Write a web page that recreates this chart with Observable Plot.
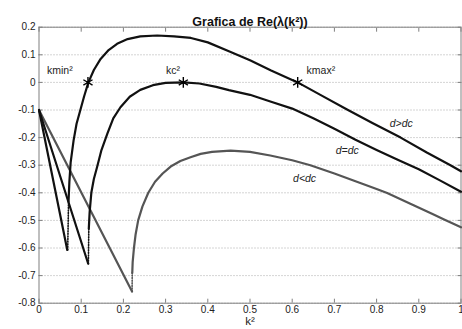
<!DOCTYPE html>
<html><head><meta charset="utf-8">
<script src="https://cdn.jsdelivr.net/npm/d3@7"></script>
<script src="https://cdn.jsdelivr.net/npm/@observablehq/plot@0.6"></script>
<style>body{margin:0;background:#fff}#chart svg{display:block}</style>
</head><body><div id="chart"></div>
<script>
// ---- tick values & labels ----
const xTicks = [0, 0.1, 0.2, 0.3, 0.4, 0.5, 0.6, 0.7, 0.8, 0.9, 1];
const xTickLabels = ["0", "0.1", "0.2", "0.3", "0.4", "0.5", "0.6", "0.7", "0.8", "0.9", "1"];
const yTicks = [0.2, 0.1, 0, -0.1, -0.2, -0.3, -0.4, -0.5, -0.6, -0.7, -0.8];
const yTickLabels = ["0.2", "0.1", "0", "-0.1", "-0.2", "-0.3", "-0.4", "-0.5", "-0.6", "-0.7", "-0.8"];
const title = "Grafica de Re(\u03bb(k\u00b2))";
const xLabel = "k\u00b2";

// ---- d > dc (black) ----
const kGtLin = [0, 0.067];
const reGtLin = [-0.1, -0.607];
const kGtJump = [0.068, 0.070];
const reGtJump = [-0.607, -0.43];
const kGt = [0.070, 0.072, 0.075, 0.082, 0.089, 0.098, 0.107, 0.117, 0.13, 0.146, 0.165, 0.185, 0.21, 0.24, 0.28, 0.32, 0.36, 0.40, 0.45, 0.50, 0.55, 0.613, 0.67, 0.73, 0.79, 0.857, 0.92, 0.975, 1.0];
const reGt = [-0.43, -0.36, -0.29, -0.21, -0.15, -0.10, -0.05, 0, 0.045, 0.085, 0.117, 0.14, 0.157, 0.167, 0.170, 0.167, 0.161, 0.145, 0.113, 0.08, 0.043, 0, -0.048, -0.098, -0.147, -0.2, -0.255, -0.3, -0.322];

// ---- d = dc (black) ----
const kEqLin = [0, 0.1166];
const reEqLin = [-0.1, -0.657];
const kEqJump = [0.117, 0.118];
const reEqJump = [-0.657, -0.53];
const kEq = [0.118, 0.120, 0.124, 0.130, 0.138, 0.148, 0.162, 0.176, 0.193, 0.215, 0.24, 0.27, 0.30, 0.342, 0.38, 0.42, 0.45, 0.50, 0.55, 0.60, 0.65, 0.70, 0.75, 0.80, 0.85, 0.90, 0.95, 1.0];
const reEq = [-0.53, -0.47, -0.40, -0.35, -0.305, -0.245, -0.186, -0.13, -0.09, -0.052, -0.027, -0.01, -0.002, 0, -0.004, -0.016, -0.028, -0.045, -0.07, -0.095, -0.13, -0.168, -0.208, -0.245, -0.28, -0.315, -0.355, -0.396];

// ---- d < dc (gray) ----
const kLtLin = [0, 0.2205];
const reLtLin = [-0.1, -0.758];
const kLtJump = [0.2205, 0.221];
const reLtJump = [-0.758, -0.69];
const kLt = [0.221, 0.222, 0.225, 0.229, 0.235, 0.245, 0.259, 0.275, 0.293, 0.312, 0.335, 0.359, 0.383, 0.41, 0.454, 0.50, 0.548, 0.60, 0.643, 0.70, 0.75, 0.80, 0.825, 0.88, 0.93, 0.96, 1.0];
const reLt = [-0.69, -0.65, -0.6, -0.55, -0.5, -0.45, -0.4, -0.36, -0.33, -0.305, -0.285, -0.271, -0.259, -0.252, -0.247, -0.252, -0.265, -0.282, -0.30, -0.33, -0.358, -0.386, -0.401, -0.44, -0.475, -0.497, -0.525];

// ---- critical points ----
const starNames = ["kmin\u00b2", "kc\u00b2", "kmax\u00b2"];
const starK = [0.116, 0.342, 0.613];
const starRe = [0, 0, 0];

// ---- annotations (anchored in data coordinates) ----
const noteText = ["kmin\u00b2", "kc\u00b2", "kmax\u00b2", "d>dc", "d=dc", "d<dc"];
const noteK = [0.019, 0.301, 0.634, 0.831, 0.703, 0.602];
const noteRe = [0.044, 0.044, 0.044, -0.151, -0.249, -0.349];
const noteItalic = [false, false, false, true, true, true];

const pts = (ks, rs) => ks.map((k, i) => ({k, re: rs[i]}));
const notes = noteText.map((t, i) => ({t, k: noteK[i], re: noteRe[i], it: noteItalic[i]}));
const stars = starNames.map((n, i) => ({n, k: starK[i], re: starRe[i]}));

const BLACK = "#111", GRAY = "#555", AX = "#808080";
const fx = d => xTickLabels[xTicks.indexOf(d)];
const fy = d => yTickLabels[yTicks.indexOf(d)];

const solid = (ks, rs, c) => Plot.line(pts(ks, rs), {x: "k", y: "re", stroke: c, strokeWidth: 2.2, curve: "linear"});
const dotted = (ks, rs, c) => Plot.line(pts(ks, rs), {x: "k", y: "re", stroke: c, strokeWidth: 1.6, strokeDasharray: "1,1.6"});

const chart = Plot.plot({
  width: 462, height: 329,
  marginLeft: 38.5, marginRight: 1.5, marginTop: 26.7, marginBottom: 26.3,
  style: {fontFamily: "'Liberation Sans', Arial, Helvetica, sans-serif", fontSize: "10px", color: "#222", background: "#fff"},
  x: {domain: [0, 1]},
  y: {domain: [-0.8, 0.2]},
  marks: [
    Plot.gridY(yTicks, {stroke: "#a0a0a0", strokeOpacity: 1, strokeWidth: 0.9, strokeDasharray: "1,2"}),
    Plot.frame({stroke: AX, strokeWidth: 1}),
    Plot.axisX(xTicks, {anchor: "bottom", stroke: "none", tickSize: 0, tickPadding: 2.5, tickFormat: fx, fill: "#222", label: null}),
    Plot.axisX(xTicks, {anchor: "bottom", fill: "none", tickSize: -4, stroke: AX, label: null}),
    Plot.axisX(xTicks, {anchor: "top", fill: "none", tickSize: -4, stroke: AX, label: null}),
    Plot.axisY(yTicks, {anchor: "left", stroke: "none", tickSize: 0, tickPadding: 3.5, tickFormat: fy, fill: "#222", label: null}),
    Plot.axisY(yTicks, {anchor: "left", fill: "none", tickSize: -4, stroke: AX, label: null}),
    Plot.axisY(yTicks, {anchor: "right", fill: "none", tickSize: -4, stroke: AX, label: null}),
    solid(kLtLin, reLtLin, GRAY), dotted(kLtJump, reLtJump, GRAY), solid(kLt, reLt, GRAY),
    solid(kEqLin, reEqLin, BLACK), dotted(kEqJump, reEqJump, BLACK), solid(kEq, reEq, BLACK),
    solid(kGtLin, reGtLin, BLACK), dotted(kGtJump, reGtJump, BLACK), solid(kGt, reGt, BLACK),
    Plot.dot(stars, {x: "k", y: "re", symbol: "asterisk", r: 5, stroke: "#000", strokeWidth: 1.4}),
    Plot.text(notes.filter(d => !d.it), {x: "k", y: "re", text: "t", textAnchor: "start", fontSize: 10.5, fill: "#222"}),
    Plot.text(notes.filter(d => d.it), {x: "k", y: "re", text: "t", textAnchor: "start", fontSize: 10.5, fontStyle: "italic", fill: "#222"}),
    Plot.text([title], {text: d => d, frameAnchor: "top", dy: -10, fontSize: 12.5, fontWeight: "bold", fill: "#111"}),
    Plot.text([xLabel], {text: d => d, frameAnchor: "bottom", dy: 22, fontSize: 11.5, fill: "#222"})
  ]
});
document.getElementById("chart").appendChild(chart);
</script>
</body></html>
